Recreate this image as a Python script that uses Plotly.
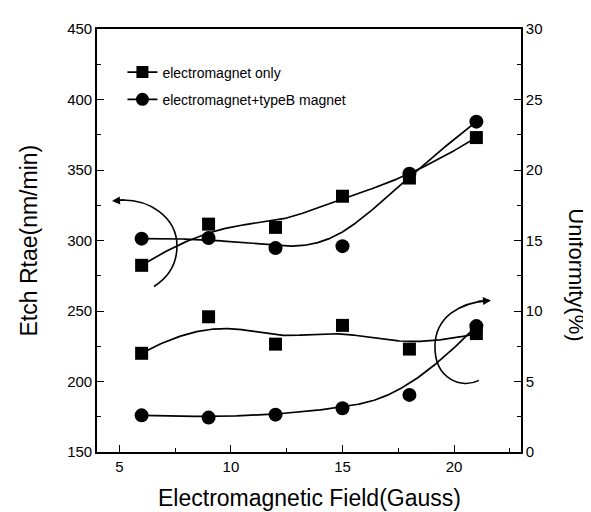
import numpy as np
import plotly.graph_objects as go

# ---- data ----
field = [6, 9, 12, 15, 18, 21]
etch_em_only = [282.4, 311.6, 309.3, 331.4, 344.3, 373.0]
etch_em_typeb = [301.3, 301.8, 294.6, 296.0, 347.3, 384.3]
unif_em_only = [7.0, 9.59, 7.65, 8.98, 7.3, 8.4]
unif_em_typeb = [2.6, 2.44, 2.65, 3.1, 4.05, 8.93]

x_ticks = [5, 10, 15, 20]
y_left_ticks = [150, 200, 250, 300, 350, 400, 450]
y_right_ticks = [0, 5, 10, 15, 20, 25, 30]

FONT = "Liberation Sans, Arial, sans-serif"


def bspline(cx, cy, n=300):
    """Clamped cubic B-spline using the data points as control points."""
    cx = np.asarray(cx, float)
    cy = np.asarray(cy, float)
    k = 3
    m = len(cx)
    inner = list(range(1, m - k))
    knots = np.array([0] * (k + 1) + inner + [m - k] * (k + 1), float)
    ts = np.linspace(0, m - k, n)
    ts[-1] -= 1e-9

    def basis(i, p, t):
        if p == 0:
            return 1.0 if knots[i] <= t < knots[i + 1] else 0.0
        a = 0.0
        d1 = knots[i + p] - knots[i]
        if d1 > 0:
            a += (t - knots[i]) / d1 * basis(i, p - 1, t)
        d2 = knots[i + p + 1] - knots[i + 1]
        if d2 > 0:
            a += (knots[i + p + 1] - t) / d2 * basis(i + 1, p - 1, t)
        return a

    xs, ys = [], []
    for t in ts:
        b = np.array([basis(i, k, t) for i in range(m)])
        xs.append(float(b @ cx))
        ys.append(float(b @ cy))
    return xs, ys


fig = go.Figure()

LINE = dict(color="black", width=1.7)

series = [
    (etch_em_only, "y", "square", 13),
    (etch_em_typeb, "y", "circle", 14),
    (unif_em_only, "y2", "square", 13),
    (unif_em_typeb, "y2", "circle", 14),
]
for vals, ax, sym, sz in series:
    sx, sy = bspline(field, vals)
    fig.add_trace(go.Scatter(x=sx, y=sy, mode="lines", line=LINE,
                             yaxis=ax, showlegend=False, hoverinfo="skip"))
    fig.add_trace(go.Scatter(x=field, y=vals, mode="markers", yaxis=ax,
                             marker=dict(symbol=sym, size=sz, color="black"),
                             showlegend=False))

# legend entries
fig.add_trace(go.Scatter(x=[None], y=[None], mode="lines+markers",
                         name="electromagnet only", legendgroup="a",
                         line=LINE, marker=dict(symbol="square", size=12, color="black")))
fig.add_trace(go.Scatter(x=[None], y=[None], mode="lines+markers",
                         name="electromagnet+typeB magnet", legendgroup="b",
                         line=LINE, marker=dict(symbol="circle", size=13, color="black")))

# ---- curved arrows (window-pixel geometry converted to data coords) ----
X0, PXX, PX0 = 4.0, 22.32, 97.0
Y0, PXY, PY0 = 450.0, 1.4267, 23.5


def dx(px):
    return X0 + (px - PX0) / PXX


def dy(py):
    return Y0 - (py - PY0) / PXY


def path(pts):
    (mx, my), rest = pts[0], pts[1:]
    s = f"M {dx(mx):.4f},{dy(my):.4f}"
    for i in range(0, len(rest), 3):
        c = rest[i:i + 3]
        s += " C " + " ".join(f"{dx(a):.4f},{dy(b):.4f}" for a, b in c)
    return s


left_arc = [(114, 197), (150, 193), (177, 215), (177, 243),
            (177, 262), (168, 275), (154, 284)]
right_arc = [(479, 379), (462, 388), (435, 378), (435, 345),
             (435, 315), (460, 300), (489, 298.3)]
for arc in (left_arc, right_arc):
    fig.add_shape(type="path", path=path(arc), xref="x", yref="y",
                  line=dict(color="black", width=1.6))

fig.add_annotation(x=dx(112), y=dy(197.5), ax=14, ay=-1, xref="x", yref="y",
                   showarrow=True, arrowhead=2, arrowsize=1, arrowwidth=1.6,
                   arrowcolor="black", text="", standoff=0)
fig.add_annotation(x=dx(491), y=dy(298.2), ax=-14, ay=1, xref="x", yref="y",
                   showarrow=True, arrowhead=2, arrowsize=1, arrowwidth=1.6,
                   arrowcolor="black", text="", standoff=0)

# ---- axis titles ----
fig.add_annotation(text="Electromagnetic Field(Gauss)", xref="paper", yref="paper",
                   x=0.5, y=0, yshift=-46, xanchor="center", yanchor="middle",
                   showarrow=False, font=dict(size=23, family=FONT, color="black"))
fig.add_annotation(text="Etch Rtae(nm/min)", xref="paper", yref="paper",
                   x=0, y=0.5, xshift=-69, textangle=-90, xanchor="center",
                   yanchor="middle", showarrow=False,
                   font=dict(size=23, family=FONT, color="black"))
fig.add_annotation(text="Uniformity(%)", xref="paper", yref="paper",
                   x=1, y=0.42, xshift=56, textangle=90, xanchor="center",
                   yanchor="middle", showarrow=False,
                   font=dict(size=22, family=FONT, color="black"))

axis_common = dict(showgrid=False, zeroline=False, showline=True,
                   linecolor="black", linewidth=1.6, ticks="inside",
                   ticklen=7, tickwidth=1.4, tickcolor="black",
                   tickfont=dict(size=15, family=FONT, color="black"))

# the page body has an 8px margin: shrink the figure by 8px and trim the
# left/top margins so the plot area lands at x 97-521, y 23-452 in the window
fig.update_layout(
    width=583, height=504,
    margin=dict(l=89, r=70, t=15, b=60),
    paper_bgcolor="white", plot_bgcolor="white",
    font=dict(family=FONT, color="black"),
    xaxis=dict(range=[4, 23], tickvals=x_ticks, mirror=True,
               minor=dict(dtick=2.5, tick0=0, ticks="inside", ticklen=4,
                          tickwidth=1.2, tickcolor="black"),
               **axis_common),
    yaxis=dict(range=[150, 450], tickvals=y_left_ticks,
               minor=dict(dtick=25, tick0=0, ticks="inside", ticklen=4,
                          tickwidth=1.2, tickcolor="black"),
               **axis_common),
    yaxis2=dict(range=[0, 30], tickvals=y_right_ticks, overlaying="y",
                side="right",
                minor=dict(dtick=2.5, tick0=0, ticks="inside", ticklen=4,
                           tickwidth=1.2, tickcolor="black"),
                **axis_common),
    legend=dict(x=0.06, y=0.935, xanchor="left", yanchor="top",
                bgcolor="rgba(0,0,0,0)", font=dict(size=14, family=FONT),
                traceorder="grouped", tracegroupgap=6, itemwidth=30),
    showlegend=True,
)

fig.write_html("out.html")
